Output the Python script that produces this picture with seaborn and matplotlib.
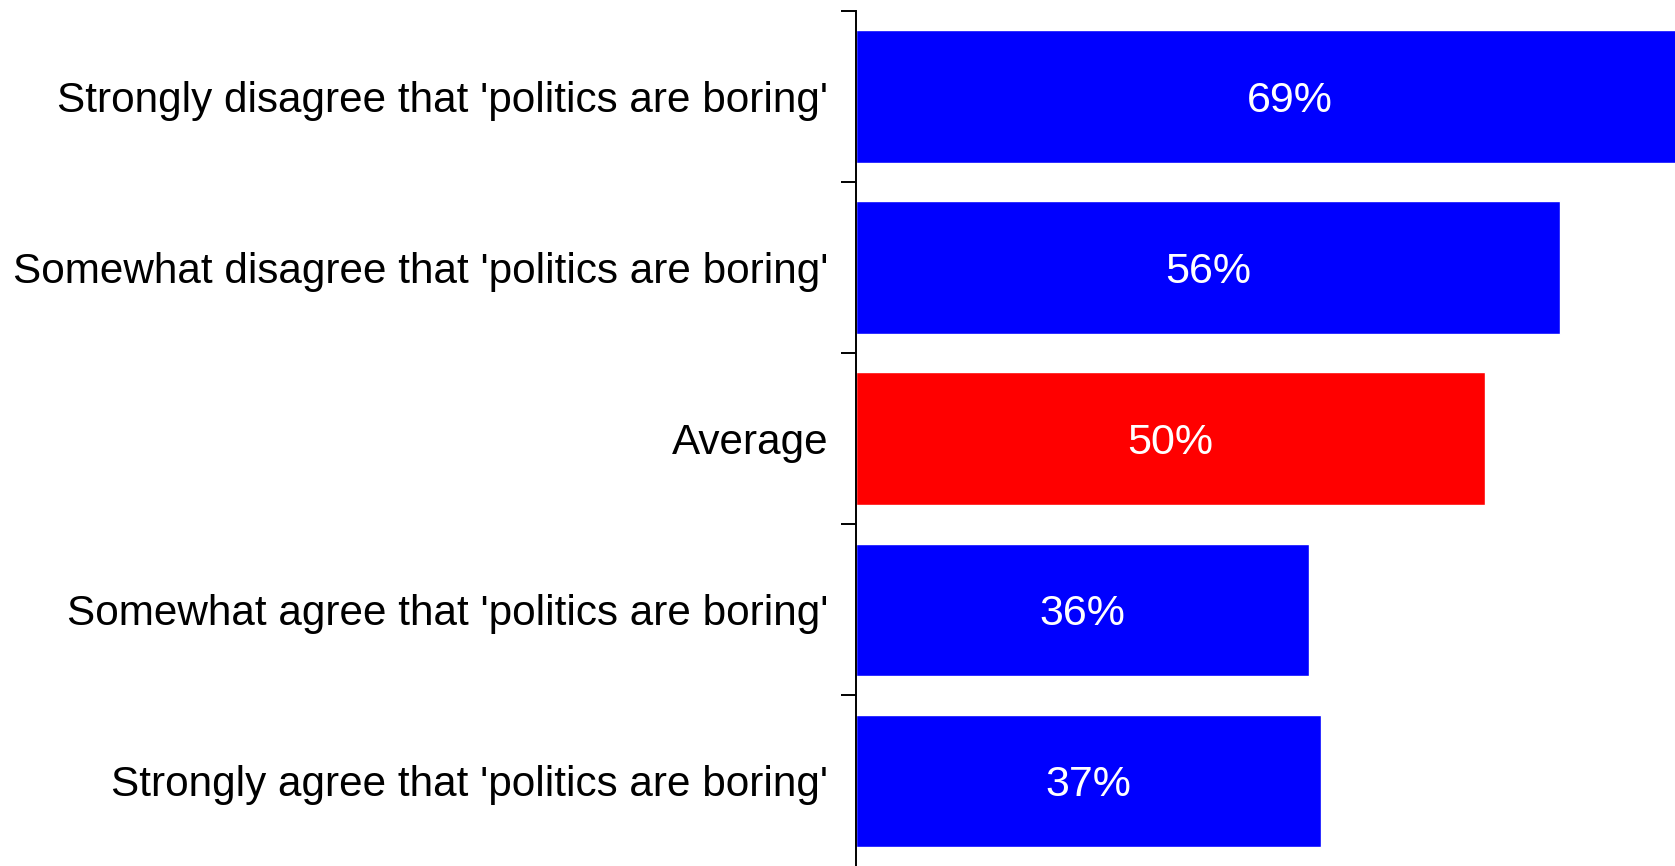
import matplotlib
matplotlib.use("Agg")
import matplotlib.pyplot as plt
import seaborn as sns
import pandas as pd
import numpy as np

# data
categories = [
    "Strongly disagree that 'politics are boring'",
    "Somewhat disagree that 'politics are boring'",
    "Average",
    "Somewhat agree that 'politics are boring'",
    "Strongly agree that 'politics are boring'",
]
bar_values = [69, 56, 50, 36, 37]
value_labels = ["69%", "56%", "50%", "36%", "37%"]
bar_colors = ["#0000FF", "#0000FF", "#FF0000", "#0000FF", "#0000FF"]

df = pd.DataFrame({"group": categories, "value": bar_values})

sns.set_style("white")
plt.rcParams["font.family"] = ["Liberation Sans", "DejaVu Sans"]

fig = plt.figure(figsize=(16.75, 8.66), dpi=100)
# axes: left edge at x=856px, top at y=11px, runs just past the bottom edge
ax = fig.add_axes([856 / 1675, (866 - 866.5) / 866, (1675 - 856) / 1675, 855.5 / 866])

sns.barplot(data=df, y="group", x="value", hue="group", palette=bar_colors,
            orient="h", width=0.775, saturation=1, legend=False, ax=ax)

# value labels in the middle of each bar
for i, (val, lab) in enumerate(zip(bar_values, value_labels)):
    ax.text(val / 2, i, lab, color="white", fontsize=31, ha="center", va="center_baseline")

# widest bar runs off the right edge, as in the original
ax.set_xlim(0, 819 / 12.58)
ax.set_ylim(len(categories) - 0.5, -0.5)

# tick marks between the bars, labels at the bar centres
ax.set_yticks(np.arange(-0.5, len(categories) + 0.5, 1.0))
ax.set_yticklabels([])
ax.set_yticks(np.arange(len(categories)), minor=True)
ax.set_yticklabels(categories, minor=True, fontsize=30.4, color="black")
ax.tick_params(axis="y", which="major", left=True, length=10.8, width=1.4,
               color="black", direction="out")
ax.tick_params(axis="y", which="minor", left=False, length=0, pad=20)

ax.set_xticks([])
ax.set_xlabel("")
ax.set_ylabel("")
for side in ["top", "right", "bottom"]:
    ax.spines[side].set_visible(False)
ax.spines["left"].set_linewidth(1.4)
ax.spines["left"].set_color("black")
ax.grid(False)

fig.savefig("out.png", dpi=100)
